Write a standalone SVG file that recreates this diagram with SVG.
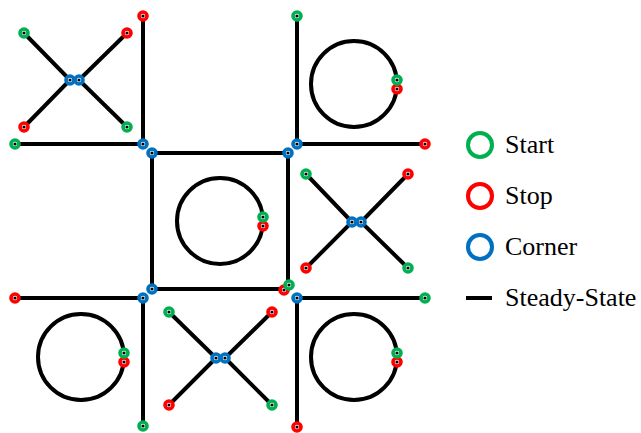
<svg xmlns="http://www.w3.org/2000/svg" width="641" height="433" viewBox="0 0 641 433">
<style>
.ln{stroke:#000;stroke-width:4;fill:none;stroke-linecap:butt}
.ring{fill:#fff;stroke-width:3.6}
.s{stroke:#00B050}
.p{stroke:#FF0000}
.c{stroke:#0070C0}
.dot{fill:#000}
.lg{fill:none;stroke-width:4}
.tx{font-family:"Liberation Serif","Times New Roman",serif;font-size:26px;fill:#000}
</style>
<defs>
<g id="ms"><circle class="ring s" r="4"/><circle class="dot" r="1.6"/></g>
<g id="mp"><circle class="ring p" r="4"/><circle class="dot" r="1.6"/></g>
<g id="mc"><circle class="ring c" r="4"/><circle class="dot" r="1.6"/></g>
</defs>
<rect width="641" height="433" fill="#fff"/>
<g id="connectors" class="ln">
<path d="M24,33L70,80L24,127M127,33L79,80L127,127"/>
<path d="M143,16V144H15"/>
<path d="M297,16V144H425"/>
<circle cx="354" cy="84" r="43"/>
<path d="M152,153H288V285M152,153V289H284"/>
<circle cx="220" cy="221" r="43"/>
<path d="M306,174L352,222L306,268M408,174L361,222L408,268"/>
<path d="M15,298H143V426"/>
<circle cx="81" cy="357" r="43"/>
<path d="M169,312L216,358L169,405M272,312L225,358L272,405"/>
<path d="M425,298H297V427"/>
<circle cx="354" cy="357" r="43"/>
</g>
<g id="node-tl-x">
<use href="#ms" x="24" y="33"/><use href="#mp" x="127" y="33"/><use href="#mp" x="24" y="127"/><use href="#ms" x="127" y="127"/><use href="#mc" x="70" y="80"/><use href="#mc" x="79" y="80"/>
</g>
<g id="node-tm">
<use href="#mp" x="143" y="16"/><use href="#ms" x="15" y="144"/><use href="#mc" x="143" y="144"/><use href="#mc" x="152" y="153"/>
</g>
<g id="node-tr">
<use href="#ms" x="297" y="16"/><use href="#mp" x="425" y="144"/><use href="#mc" x="297" y="144"/><use href="#mc" x="288" y="153"/>
<use href="#mp" x="397" y="89"/><use href="#ms" x="397" y="80"/>
</g>
<g id="node-center">
<use href="#mp" x="263" y="226"/><use href="#ms" x="263" y="217"/>
<use href="#mc" x="152" y="289"/><use href="#mc" x="143" y="298"/>
<use href="#mp" x="284" y="290"/><use href="#ms" x="289" y="285"/>
</g>
<g id="node-mr-x">
<use href="#ms" x="306" y="174"/><use href="#mp" x="408" y="174"/><use href="#mp" x="306" y="268"/><use href="#ms" x="408" y="268"/><use href="#mc" x="352" y="222"/><use href="#mc" x="361" y="222"/>
</g>
<g id="node-bl">
<use href="#mp" x="15" y="298"/><use href="#ms" x="143" y="426"/>
<use href="#mp" x="124" y="362"/><use href="#ms" x="124" y="353"/>
</g>
<g id="node-bm-x">
<use href="#ms" x="169" y="312"/><use href="#mp" x="272" y="312"/><use href="#mp" x="169" y="405"/><use href="#ms" x="272" y="405"/><use href="#mc" x="216" y="358"/><use href="#mc" x="225" y="358"/>
</g>
<g id="node-br">
<use href="#mc" x="297" y="298"/><use href="#ms" x="425" y="298"/><use href="#mp" x="297" y="427"/>
<use href="#mp" x="397" y="362"/><use href="#ms" x="397" y="353"/>
</g>
<g id="legend">
<circle class="lg s" cx="480" cy="145" r="12"/>
<text class="tx" x="505" y="153">Start</text>
<circle class="lg p" cx="480" cy="196" r="12"/>
<text class="tx" x="505" y="204">Stop</text>
<circle class="lg c" cx="480" cy="247" r="12"/>
<text class="tx" x="505" y="255">Corner</text>
<line x1="466" y1="298" x2="492" y2="298" stroke="#000" stroke-width="4"/>
<text class="tx" x="505" y="306">Steady-State</text>
</g>
</svg>
